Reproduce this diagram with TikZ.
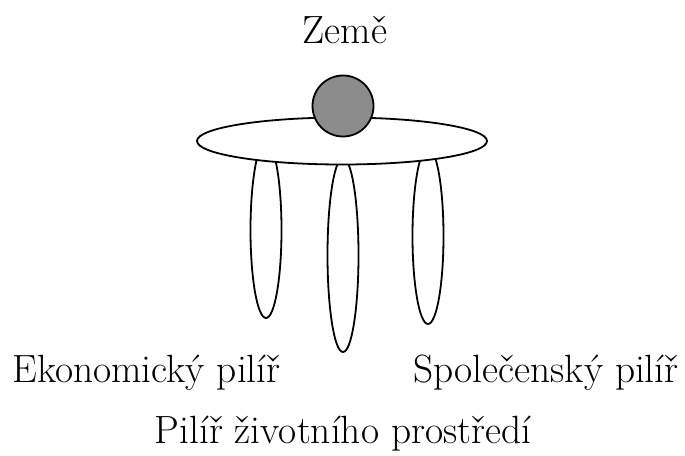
\documentclass[tikz,border=0pt]{standalone}
\usepackage{tikz}
\usetikzlibrary{shapes.geometric}
\definecolor{earthgray}{RGB}{140,140,140}

\begin{document}
\begin{tikzpicture}[
    x=0.5pt, y=-0.5pt,
    every node/.style={font=\fontsize{19.7}{23}\selectfont},
    pillar/.style={ellipse, draw, line width=0.9pt, fill=white, inner sep=0pt, minimum width=15.5pt},
    ring/.style={ellipse, draw, line width=0.9pt, fill=white, inner sep=0pt, minimum width=145pt, minimum height=23.5pt},
    earth/.style={circle, draw, line width=0.9pt, fill=earthgray, inner sep=0pt, minimum size=30.5pt},
    label/.style={inner sep=0pt}
]
\useasboundingbox (0,0) rectangle (685,455);

% Pillars
\node[pillar, minimum height=88pt] (econ) at (266, 230) {};
\node[pillar, minimum height=97pt] (env) at (343, 255) {};
\node[pillar, minimum height=88pt] (soc) at (428, 236) {};

% Ring and Earth
\node[ring] (ring) at (342, 141) {};
\node[earth] (earth) at (343, 106) {};

% Labels
\node[label, anchor=base] (zeme) at (345, 43) {Země};
\node[label, anchor=base west] (econlbl) at (12, 382) {Ekonomický pilíř};
\node[label, anchor=base west] (soclbl) at (413, 382) {Společenský pilíř};
\node[label, anchor=base] (envlbl) at (343, 443) {Pilíř životního prostředí};

\end{tikzpicture}
\end{document}
